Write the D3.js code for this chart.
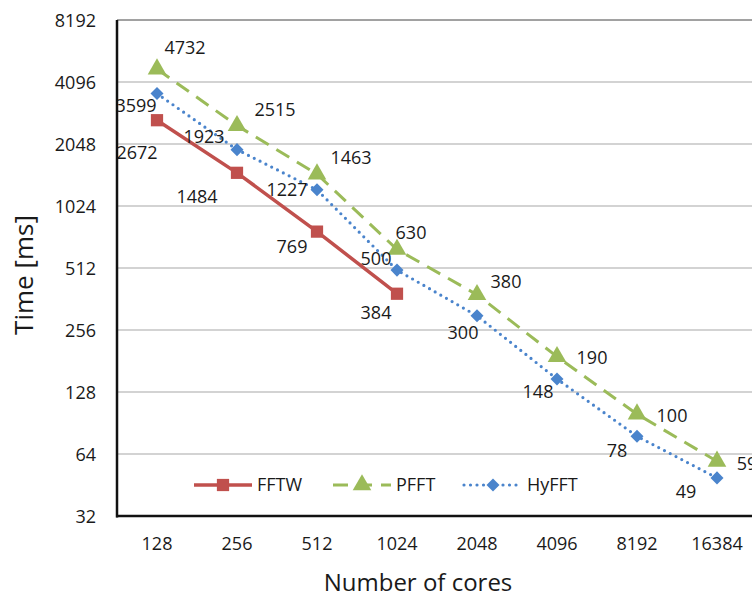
<!DOCTYPE html>
<html>
<head>
<meta charset="utf-8">
<script src="https://cdnjs.cloudflare.com/ajax/libs/d3/7.8.5/d3.min.js"></script>
<style>
  body { margin: 0; background: #fff; }
  svg text { font-family: "Open Sans", "Noto Sans", sans-serif; fill: #1a1a1a; }
</style>
</head>
<body>
<div id="chart"></div>
<script>
// data
const categories = ['128', '256', '512', '1024', '2048', '4096', '8192', '16384'];
const fftw = [2672, 1484, 769, 384];
const pfft = [4732, 2515, 1463, 630, 380, 190, 100, 59];
const hyfft = [3599, 1923, 1227, 500, 300, 148, 78, 49];
const yTicks = [32, 64, 128, 256, 512, 1024, 2048, 4096, 8192];

// where each data label sits relative to its point (dx, dy)
const fftwNudge = [[-20, 32], [-40, 24], [-25, 15], [-21, 19]];
const pfftNudge = [[28, -22], [38, -16], [34, -17], [14, -17], [29, -13], [35, 1], [35, 1], [30, 2]];
const hyfftNudge = [[-21, 12], [-33, -13], [-30, 0], [-21, -12], [-14, 17], [-19, 13], [-20, 14], [-31, 14]];

var width = 752, height = 599;
var margin = {left: 117, right: 757, top: 20, bottom: 516};

var svg = d3.select('#chart').append('svg')
  .attr('width', width)
  .attr('height', height);

var x = d3.scaleBand()
  .domain(categories)
  .range([margin.left, margin.right]);

var y = d3.scaleLog()
  .base(2)
  .domain([32, 8192])
  .range([margin.bottom, margin.top]);

function cx(i) { return x(categories[i]) + x.bandwidth() / 2; }

// gridlines
svg.append('g')
  .selectAll('line')
  .data(yTicks.filter(function (d) { return d > 32 && d < 8192; }))
  .enter().append('line')
  .attr('x1', margin.left).attr('x2', width)
  .attr('y1', function (d) { return y(d); })
  .attr('y2', function (d) { return y(d); })
  .attr('stroke', '#c4c4c4')
  .attr('stroke-width', 1.5);

// top border of plot area
svg.append('line')
  .attr('x1', margin.left).attr('x2', width)
  .attr('y1', y(8192)).attr('y2', y(8192))
  .attr('stroke', '#444').attr('stroke-width', 1);

var series = [
  {name: 'FFTW', values: fftw, nudge: fftwNudge, color: '#c0504d', dash: null, width: 3.5, marker: 'square'},
  {name: 'PFFT', values: pfft, nudge: pfftNudge, color: '#9bbb59', dash: '15,9', width: 3, marker: 'triangle'},
  {name: 'HyFFT', values: hyfft, nudge: hyfftNudge, color: '#4a84cc', dash: '0,6.5', width: 3.2, marker: 'diamond'}
];

var symbols = {
  square: d3.symbol().type(d3.symbolSquare).size(150),
  triangle: d3.symbol().type(d3.symbolTriangle).size(150),
  diamond: d3.symbol().type(d3.symbolSquare).size(85)
};
var rot = {square: 0, triangle: 0, diamond: 45};

var line = d3.line()
  .x(function (d, i) { return cx(i); })
  .y(function (d) { return y(d); });

series.forEach(function (s) {
  svg.append('path')
    .datum(s.values)
    .attr('d', line)
    .attr('fill', 'none')
    .attr('stroke', s.color)
    .attr('stroke-width', s.width)
    .attr('stroke-dasharray', s.dash)
    .attr('stroke-linecap', s.marker == 'diamond' ? 'round' : 'butt');

  svg.append('g')
    .selectAll('path')
    .data(s.values)
    .enter().append('path')
    .attr('d', symbols[s.marker])
    .attr('transform', function (d, i) {
      return 'translate(' + cx(i) + ',' + y(d) + ') rotate(' + rot[s.marker] + ')';
    })
    .attr('fill', s.color);
});

// data labels
series.forEach(function (s) {
  svg.append('g')
    .selectAll('text')
    .data(s.values)
    .enter().append('text')
    .attr('x', function (d, i) { return cx(i) + s.nudge[i][0]; })
    .attr('y', function (d, i) { return y(d) + s.nudge[i][1]; })
    .attr('dy', '0.36em')
    .attr('text-anchor', 'middle')
    .style('font-size', '18px')
    .text(function (d) { return d; });
});

// axes
var yAxis = d3.axisLeft(y)
  .tickValues(yTicks)
  .tickFormat(d3.format('d'))
  .tickSize(0)
  .tickPadding(21);

svg.append('g')
  .attr('transform', 'translate(' + margin.left + ',0)')
  .call(yAxis)
  .call(function (g) { g.select('.domain').remove(); })
  .selectAll('text')
  .style('font-size', '18px')
  .attr('dy', '0.36em');

var xAxis = d3.axisBottom(x).tickSize(0).tickPadding(21);

svg.append('g')
  .attr('transform', 'translate(0,' + margin.bottom + ')')
  .call(xAxis)
  .call(function (g) { g.select('.domain').remove(); })
  .selectAll('text')
  .style('font-size', '18px');

svg.append('line')
  .attr('x1', margin.left).attr('x2', margin.left)
  .attr('y1', margin.top).attr('y2', margin.bottom + 1.5)
  .attr('stroke', '#111').attr('stroke-width', 2.5);

svg.append('line')
  .attr('x1', margin.left - 1).attr('x2', width)
  .attr('y1', margin.bottom).attr('y2', margin.bottom)
  .attr('stroke', '#111').attr('stroke-width', 2.5);

// axis titles
svg.append('text')
  .attr('x', 418).attr('y', 591)
  .attr('text-anchor', 'middle')
  .style('font-size', '24px')
  .text('Number of cores');

svg.append('text')
  .attr('transform', 'translate(24,275) rotate(-90)')
  .attr('dy', '0.36em')
  .attr('text-anchor', 'middle')
  .style('font-size', '26px')
  .text('Time [ms]');

// legend
var legendX = [194, 333, 464];
var legend = svg.append('g');
series.forEach(function (s, i) {
  var g = legend.append('g').attr('transform', 'translate(' + legendX[i] + ',485)');
  g.append('line')
    .attr('x1', 0).attr('x2', 58)
    .attr('stroke', s.color)
    .attr('stroke-width', s.width)
    .attr('stroke-dasharray', s.dash)
    .attr('stroke-linecap', s.marker == 'diamond' ? 'round' : 'butt');
  g.append('path')
    .attr('d', symbols[s.marker])
    .attr('transform', 'translate(29,0) rotate(' + rot[s.marker] + ')')
    .attr('fill', s.color);
  g.append('text')
    .attr('x', 63)
    .attr('dy', '0.36em')
    .style('font-size', '18px')
    .text(s.name);
});
</script>
</body>
</html>
